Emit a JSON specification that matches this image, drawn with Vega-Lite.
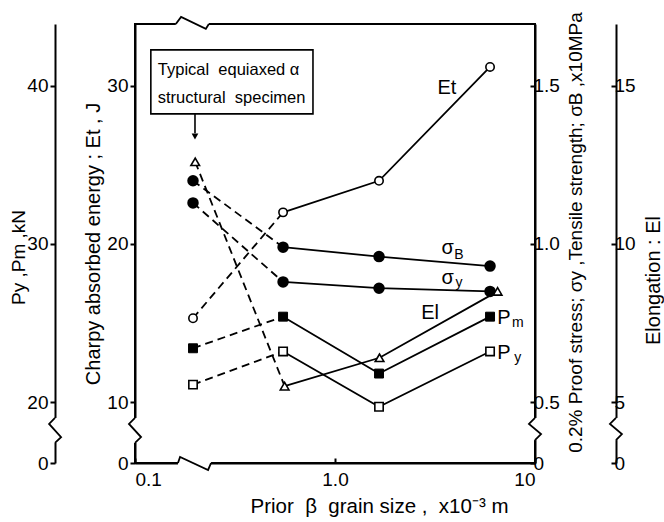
{
  "$schema": "https://vega.github.io/schema/vega-lite/v6.json",
  "width": 400,
  "height": 439,
  "autosize": {"type": "none"},
  "padding": {"left": 135, "top": 24, "right": 129, "bottom": 59},
  "background": "white",
  "datasets": {
    "et": [
      {"x": 0.195, "v": 15.3},
      {"x": 0.55, "v": 22.0},
      {"x": 1.66, "v": 24.0},
      {"x": 5.96, "v": 31.2}
    ],
    "stress": [
      {"s": "σB", "x": 0.195, "v": 1.20},
      {"s": "σB", "x": 0.55, "v": 0.99},
      {"s": "σB", "x": 1.66, "v": 0.96},
      {"s": "σB", "x": 5.96, "v": 0.93},
      {"s": "σy", "x": 0.195, "v": 1.13},
      {"s": "σy", "x": 0.55, "v": 0.88},
      {"s": "σy", "x": 1.66, "v": 0.86},
      {"s": "σy", "x": 5.96, "v": 0.85}
    ],
    "el": [
      {"x": 0.2, "v": 12.6},
      {"x": 0.56, "v": 5.5},
      {"x": 1.67, "v": 6.4},
      {"x": 6.5, "v": 8.5}
    ],
    "load": [
      {"s": "Pm", "x": 0.195, "v": 23.4},
      {"s": "Pm", "x": 0.55, "v": 25.4},
      {"s": "Pm", "x": 1.66, "v": 21.8},
      {"s": "Pm", "x": 5.96, "v": 25.4},
      {"s": "Py", "x": 0.195, "v": 21.1},
      {"s": "Py", "x": 0.55, "v": 23.2},
      {"s": "Py", "x": 1.66, "v": 19.7},
      {"s": "Py", "x": 5.96, "v": 23.2}
    ],
    "labels": [
      {"t": "Et", "r": "m", "x": 3.63, "v": 29.87},
      {"t": "σ", "r": "m", "x": 3.66, "v": 19.75},
      {"t": "B", "r": "s", "x": 4.17, "v": 19.30},
      {"t": "σ", "r": "m", "x": 3.66, "v": 17.85},
      {"t": "y", "r": "s", "x": 4.17, "v": 17.53},
      {"t": "El", "r": "m", "x": 2.99, "v": 15.63},
      {"t": "P", "r": "m", "x": 7.0, "v": 15.32},
      {"t": "m", "r": "s", "x": 8.2, "v": 15.0},
      {"t": "P", "r": "m", "x": 7.0, "v": 13.10},
      {"t": "y", "r": "s", "x": 8.2, "v": 12.78}
    ],
    "note": [{"x": 0.12, "x2": 0.776, "v": 28.23, "v2": 32.28}],
    "notetext": [
      {"t": "Typical\u00a0\u00a0equiaxed\u00a0α", "x": 0.13, "v": 31.01},
      {"t": "structural\u00a0\u00a0specimen", "x": 0.13, "v": 29.24}
    ],
    "arrow": [{"x": 0.1995, "v": 28.23, "v2": 27.0}],
    "arrowhead": [{"x": 0.1995, "v": 26.8}],
    "gaps": [
      {"x": 0.160, "x2": 0.234, "v": 33.92, "v2": 33.92},
      {"x": 0.164, "x2": 0.240, "v": 6.14, "v2": 6.14},
      {"x": 0.1, "x2": 0.1, "v": 8.99, "v2": 7.41},
      {"x": 0.0398, "x2": 0.0398, "v": 8.99, "v2": 7.41},
      {"x": 10, "x2": 10, "v": 8.99, "v2": 7.59},
      {"x": 25.4, "x2": 25.4, "v": 8.99, "v2": 7.59}
    ],
    "zig": [
      {"id": "top", "o": 1, "x": 0.160, "v": 33.92},
      {"id": "top", "o": 2, "x": 0.170, "v": 34.37},
      {"id": "top", "o": 3, "x": 0.226, "v": 33.61},
      {"id": "top", "o": 4, "x": 0.234, "v": 33.92},
      {"id": "bot", "o": 1, "x": 0.164, "v": 6.14},
      {"id": "bot", "o": 2, "x": 0.168, "v": 6.52},
      {"id": "bot", "o": 3, "x": 0.232, "v": 5.70},
      {"id": "bot", "o": 4, "x": 0.240, "v": 6.14},
      {"id": "l1", "o": 1, "x": 0.1, "v": 8.99},
      {"id": "l1", "o": 2, "x": 0.0933, "v": 8.61},
      {"id": "l1", "o": 3, "x": 0.1072, "v": 7.78},
      {"id": "l1", "o": 4, "x": 0.1, "v": 7.41},
      {"id": "l2", "o": 1, "x": 0.0398, "v": 8.99},
      {"id": "l2", "o": 2, "x": 0.0372, "v": 8.61},
      {"id": "l2", "o": 3, "x": 0.0427, "v": 7.78},
      {"id": "l2", "o": 4, "x": 0.0398, "v": 7.41},
      {"id": "r1", "o": 1, "x": 10, "v": 8.99},
      {"id": "r1", "o": 2, "x": 9.33, "v": 8.61},
      {"id": "r1", "o": 3, "x": 10.72, "v": 7.97},
      {"id": "r1", "o": 4, "x": 10, "v": 7.59},
      {"id": "r2", "o": 1, "x": 25.4, "v": 8.99},
      {"id": "r2", "o": 2, "x": 23.7, "v": 8.61},
      {"id": "r2", "o": 3, "x": 27.2, "v": 7.97},
      {"id": "r2", "o": 4, "x": 25.4, "v": 7.59}
    ]
  },
  "encoding": {
    "x": {
      "field": "x",
      "type": "quantitative",
      "scale": {"type": "log", "domain": [0.1, 10]},
      "axis": {
        "orient": "bottom",
        "values": [0.1, 1, 10],
        "labelExpr": "datum.value < 0.5 ? '0.1' : (datum.value < 5 ? '1.0' : '10')",
        "tickSize": -5,
        "labelPadding": 12,
        "title": "Prior\u00a0\u00a0β\u00a0\u00a0grain size ,\u00a0\u00a0x10⁻³ m",
        "titleFontSize": 20.5,
        "titleX": 244,
        "titleY": 49,
        "titleBaseline": "alphabetic"
      }
    }
  },
  "layer": [
    {
      "encoding": {
        "y": {
          "field": "v",
          "type": "quantitative",
          "scale": {"domain": [6.14, 33.92], "nice": false, "zero": false},
          "axis": {
            "orient": "left",
            "offset": 0,
            "values": [6.14, 10, 20, 30],
            "labelExpr": "datum.value < 7 ? '0' : datum.label",
            "tickSize": 5,
            "labelPadding": 2,
            "title": "Charpy absorbed energy ; Et , J",
            "titleFontSize": 20,
            "titleAngle": -90,
            "titleX": -36,
            "titleBaseline": "alphabetic"
          }
        }
      },
      "layer": [
        {"data": {"name": "et"}, "transform": [{"filter": "datum.x < 1"}], "encoding": {}, "mark": {"type": "line", "color": "black", "strokeWidth": 1.8, "strokeDash": [8, 5]}},
        {"data": {"name": "et"}, "transform": [{"filter": "datum.x > 0.4"}], "encoding": {}, "mark": {"type": "line", "color": "black", "strokeWidth": 1.8}},
        {"data": {"name": "et"}, "mark": {"type": "point", "shape": "circle", "size": 70, "filled": true, "fill": "white", "stroke": "black", "strokeWidth": 1.6, "opacity": 1}},
        {"data": {"name": "note"}, "encoding": {"x2": {"field": "x2"}, "y2": {"field": "v2"}}, "mark": {"type": "rect", "fill": "white", "stroke": "black", "strokeWidth": 1.6}},
        {"data": {"name": "notetext"}, "encoding": {"text": {"field": "t"}}, "mark": {"type": "text", "align": "left", "baseline": "middle", "fontSize": 16.5, "font": "Liberation Sans", "color": "black"}},
        {"data": {"name": "arrow"}, "encoding": {"y2": {"field": "v2"}}, "mark": {"type": "rule", "color": "black", "strokeWidth": 1.6}},
        {"data": {"name": "arrowhead"}, "mark": {"type": "point", "shape": "triangle-down", "size": 45, "filled": true, "color": "black", "opacity": 1}},
        {"data": {"name": "labels"}, "transform": [{"filter": "datum.r == 'm'"}], "encoding": {"text": {"field": "t"}}, "mark": {"type": "text", "align": "center", "baseline": "middle", "fontSize": 20, "font": "Liberation Sans", "color": "black"}},
        {"data": {"name": "labels"}, "transform": [{"filter": "datum.r == 's'"}], "encoding": {"text": {"field": "t"}}, "mark": {"type": "text", "align": "center", "baseline": "middle", "fontSize": 14, "font": "Liberation Sans", "color": "black"}},
        {"data": {"name": "gaps"}, "encoding": {"x2": {"field": "x2"}, "y2": {"field": "v2"}}, "mark": {"type": "rule", "color": "white", "strokeWidth": 5}},
        {"data": {"name": "zig"}, "encoding": {"detail": {"field": "id"}, "order": {"field": "o"}}, "mark": {"type": "line", "color": "black", "strokeWidth": 1.8}}
      ]
    },
    {
      "encoding": {
        "y": {
          "field": "v",
          "type": "quantitative",
          "scale": {"domain": [16.14, 43.92], "nice": false, "zero": false},
          "axis": {
            "orient": "left",
            "offset": 80,
            "values": [16.14, 20, 30, 40],
            "labelExpr": "datum.value < 17 ? '0' : datum.label",
            "tickSize": 5,
            "labelPadding": 2,
            "title": "Py ,Pm ,kN",
            "titleAngle": -90,
            "titleX": -31,
            "titleY": 233,
            "titleBaseline": "alphabetic"
          }
        }
      },
      "layer": [
        {"data": {"name": "load"}, "transform": [{"filter": "datum.x < 1"}], "encoding": {"detail": {"field": "s"}}, "mark": {"type": "line", "color": "black", "strokeWidth": 1.8, "strokeDash": [8, 5]}},
        {"data": {"name": "load"}, "transform": [{"filter": "datum.x > 0.4"}], "encoding": {"detail": {"field": "s"}}, "mark": {"type": "line", "color": "black", "strokeWidth": 1.8}},
        {"data": {"name": "load"}, "transform": [{"filter": "datum.s == 'Pm'"}], "mark": {"type": "point", "shape": "square", "size": 80, "filled": true, "fill": "black", "stroke": "black", "strokeWidth": 1, "opacity": 1}},
        {"data": {"name": "load"}, "transform": [{"filter": "datum.s == 'Py'"}], "mark": {"type": "point", "shape": "square", "size": 70, "filled": true, "fill": "white", "stroke": "black", "strokeWidth": 1.6, "opacity": 1}}
      ]
    },
    {
      "encoding": {
        "y": {
          "field": "v",
          "type": "quantitative",
          "scale": {"domain": [0.307, 1.696], "nice": false, "zero": false},
          "axis": {
            "orient": "right",
            "offset": 0,
            "values": [0.307, 0.5, 1, 1.5],
            "format": ".1f",
            "labelExpr": "datum.value < 0.4 ? '0' : datum.label",
            "tickSize": -5,
            "labelPadding": 3,
            "title": "0.2% Proof stress; σy ,Tensile strength; σB ,x10MPa",
            "titleAngle": -90,
            "titleX": 46,
            "titleY": 208,
            "titleBaseline": "alphabetic"
          }
        }
      },
      "layer": [
        {"data": {"name": "stress"}, "transform": [{"filter": "datum.x < 1"}], "encoding": {"detail": {"field": "s"}}, "mark": {"type": "line", "color": "black", "strokeWidth": 1.8, "strokeDash": [8, 5]}},
        {"data": {"name": "stress"}, "transform": [{"filter": "datum.x > 0.4"}], "encoding": {"detail": {"field": "s"}}, "mark": {"type": "line", "color": "black", "strokeWidth": 1.8}},
        {"data": {"name": "stress"}, "mark": {"type": "point", "shape": "circle", "size": 90, "filled": true, "fill": "black", "stroke": "black", "opacity": 1}}
      ]
    },
    {
      "encoding": {
        "y": {
          "field": "v",
          "type": "quantitative",
          "scale": {"domain": [3.07, 16.96], "nice": false, "zero": false},
          "axis": {
            "orient": "right",
            "offset": 81,
            "values": [3.07, 5, 10, 15],
            "labelExpr": "datum.value < 4 ? '0' : datum.label",
            "tickSize": -5,
            "labelPadding": 3,
            "title": "Elongation : El",
            "titleFontSize": 20,
            "titleAngle": -90,
            "titleX": 43,
            "titleY": 256,
            "titleBaseline": "alphabetic"
          }
        }
      },
      "layer": [
        {"data": {"name": "el"}, "transform": [{"filter": "datum.x < 1"}], "encoding": {}, "mark": {"type": "line", "color": "black", "strokeWidth": 1.8, "strokeDash": [8, 5]}},
        {"data": {"name": "el"}, "transform": [{"filter": "datum.x > 0.4"}], "encoding": {}, "mark": {"type": "line", "color": "black", "strokeWidth": 1.8}},
        {"data": {"name": "el"}, "mark": {"type": "point", "shape": "triangle-up", "size": 75, "filled": true, "fill": "white", "stroke": "black", "strokeWidth": 1.6, "opacity": 1}}
      ]
    }
  ],
  "resolve": {"scale": {"y": "independent"}},
  "config": {
    "view": {"stroke": "black", "strokeWidth": 2},
    "font": "Liberation Sans",
    "axis": {
      "grid": false,
      "zindex": 0,
      "domainColor": "black",
      "domainWidth": 2,
      "tickColor": "black",
      "tickWidth": 2,
      "labelColor": "black",
      "titleColor": "black",
      "labelFont": "Liberation Sans",
      "titleFont": "Liberation Sans",
      "labelFontSize": 19,
      "titleFontSize": 19,
      "titleFontWeight": "normal"
    }
  }
}
